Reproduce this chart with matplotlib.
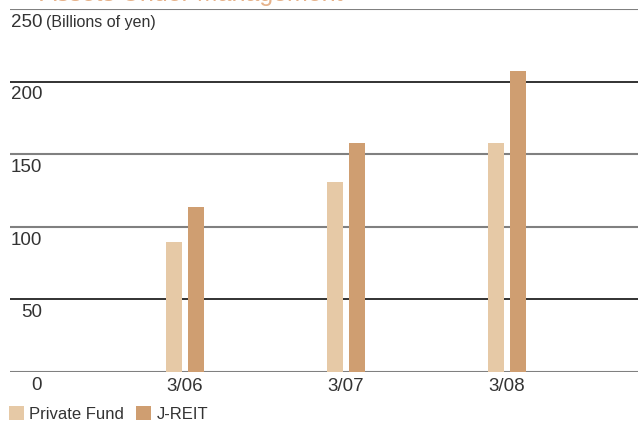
import matplotlib.pyplot as plt
import numpy as np

plt.rcParams['font.family'] = ['Liberation Sans', 'DejaVu Sans']

# Assets under management, billions of yen
periods = ['3/06', '3/07', '3/08']
private_fund = [89.5, 131, 157.5]
j_reit = [113.5, 157.5, 207.5]
y_ticks = [0, 50, 100, 150, 200, 250]

col_pf = '#E6C9A6'
col_jr = '#CF9E71'
txt = '#333333'

fig = plt.figure(figsize=(6.38, 4.22), dpi=100)
ax = fig.add_axes([10 / 638, 1 - 372 / 422, 628 / 638, 363 / 422])

x = np.arange(len(periods))
w = 0.1
off = 0.068
ax.bar(x - off, private_fund, w, color=col_pf, zorder=3, label='Private Fund')
ax.bar(x + off, j_reit, w, color=col_jr, zorder=3, label='J-REIT')

# horizontal rules: dark for 50/200, grey for the rest
line_cols = {0: '#808080', 50: '#222222', 100: '#808080',
             150: '#808080', 200: '#222222', 250: '#808080'}
line_w = {0: 1.5, 50: 1.3, 100: 1.5, 150: 1.5, 200: 1.3, 250: 1.5}
for v in y_ticks:
    ax.axhline(v, color=line_cols[v], lw=line_w[v], zorder=2)

ax.set_xlim(-1.087, 2.814)
ax.set_ylim(0, 250)
for s in ax.spines.values():
    s.set_visible(False)
ax.set_xticks([])
ax.set_yticks([])

# value labels sit just under each rule, right aligned
for v in y_ticks:
    ax.annotate(str(v), xy=(32 / 628, v), xycoords=('axes fraction', 'data'),
                xytext=(0, -3.5), textcoords='offset points',
                ha='right', va='top', fontsize=13.5, color=txt)
ax.annotate('(Billions of yen)', xy=(36 / 628, 250),
            xycoords=('axes fraction', 'data'),
            xytext=(0, -4.5), textcoords='offset points',
            ha='left', va='top', fontsize=11.5, color=txt)

for xi, p in zip(x, periods):
    ax.annotate(p, xy=(xi, 0), xytext=(0, -4), textcoords='offset points',
                ha='center', va='top', fontsize=13.5, color=txt)

# heading runs off the top edge
fig.text(40 / 638, 1 - 0.5 / 422, 'Assets Under Management', fontsize=18,
         color='#E6B28A', ha='left', va='baseline')

fig.legend(loc='center left', bbox_to_anchor=(9 / 638, 1 - 414 / 422),
           ncol=2, frameon=False, fontsize=12, handlelength=0.9,
           handleheight=0.9, handletextpad=0.3, columnspacing=0.75,
           borderpad=0, borderaxespad=0, labelcolor=txt)

fig.savefig('out.png', dpi=100)
